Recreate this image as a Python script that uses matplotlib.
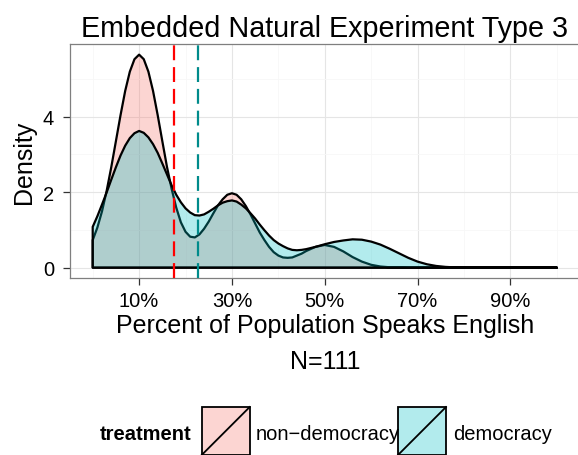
import matplotlib
matplotlib.use("Agg")
import matplotlib.pyplot as plt
import matplotlib.patches as mpatches
from matplotlib.lines import Line2D
from matplotlib.colors import to_rgba

plt.rcParams['font.family'] = ['Liberation Sans', 'DejaVu Sans']

# density curves (x in percent)
pct = list(range(0, 47)) + list(range(48, 82, 2)) + [85, 90, 95, 100]

non_dem = [0.73, 1.06, 1.49, 2.03, 2.66, 3.35, 4.04, 4.68, 5.19, 5.52,
           5.64, 5.52, 5.19, 4.68, 4.04, 3.35, 2.67, 2.09, 1.59, 1.20,
           0.95, 0.82, 0.80, 0.88, 1.03, 1.22, 1.44, 1.65, 1.81, 1.93,
           1.97, 1.93, 1.81, 1.63, 1.41, 1.17, 0.93, 0.73, 0.55, 0.41,
           0.32, 0.27, 0.26, 0.27, 0.32, 0.37, 0.44,
           0.55, 0.60, 0.55, 0.43, 0.28, 0.16, 0.075, 0.03, 0.01, 0.003,
           0.0, 0.0, 0.0, 0.0, 0.0, 0.0, 0.0,
           0.0, 0.0, 0.0, 0.0]

dem = [1.08, 1.36, 1.67, 1.99, 2.33, 2.66, 2.97, 3.23, 3.43, 3.56,
       3.62, 3.57, 3.45, 3.27, 3.04, 2.76, 2.47, 2.18, 1.93, 1.73,
       1.57, 1.46, 1.39, 1.38, 1.41, 1.48, 1.56, 1.65, 1.72, 1.76,
       1.78, 1.75, 1.67, 1.57, 1.44, 1.30, 1.14, 0.99, 0.85, 0.73,
       0.64, 0.57, 0.51, 0.47, 0.46, 0.47, 0.49,
       0.55, 0.62, 0.68, 0.72, 0.75, 0.74, 0.69, 0.61, 0.50, 0.38,
       0.26, 0.16, 0.09, 0.045, 0.02, 0.007, 0.0,
       0.0, 0.0, 0.0, 0.0]

groups = ['non\u2212democracy', 'democracy']
fills = ['#F8766D', '#00BFC4']
mean_pct = [17.6, 22.7]
mean_cols = ['#FF0000', '#008B8B']

xticks = [10, 30, 50, 70, 90]
xticklabels = ['10%', '30%', '50%', '70%', '90%']
yticks = [0, 2, 4]

W, H = 578, 456
fig = plt.figure(figsize=(W / 100, H / 100), dpi=100)
left, right, top, bottom = 69.5, 580.0, 45.0, 279.3
ax = fig.add_axes([left / W, 1 - bottom / H, (right - left) / W, (bottom - top) / H])

for xs, ys, col in [(pct, non_dem, fills[0]), (pct, dem, fills[1])]:
    px = [xs[0]] + list(xs) + [xs[-1]]
    py = [0] + list(ys) + [0]
    ax.fill(px, py, facecolor=to_rgba(col, 0.3), edgecolor='black', lw=1.6,
            joinstyle='round', zorder=3)

for m, c in zip(mean_pct, mean_cols):
    ax.axvline(m, color=c, lw=1.6, dashes=(6.7, 3.1), zorder=4)

ax.set_xlim(-5, 105)
ax.set_ylim(-0.282, 5.922)
ax.set_xticks(xticks)
ax.set_xticklabels(xticklabels)
ax.set_yticks(yticks)
ax.set_xticks([0, 20, 40, 60, 80, 100], minor=True)
ax.set_yticks([1, 3, 5], minor=True)
ax.grid(which='major', color='#E5E5E5', lw=0.8, zorder=0)
ax.grid(which='minor', color='#F7F7F7', lw=0.6, zorder=0)
ax.set_axisbelow(True)
ax.tick_params(which='major', direction='out', length=5, width=0.9, color='#333333',
               labelsize=14.5, labelcolor='black')
ax.tick_params(axis='x', which='major', pad=4.5)
ax.tick_params(axis='y', which='major', pad=6)
ax.tick_params(which='minor', length=0)
for s in ax.spines.values():
    s.set_color('#7F7F7F')
    s.set_linewidth(0.9)

ax.set_title('Embedded Natural Experiment Type 3', fontsize=20.7, pad=5.5)
ax.set_xlabel('Percent of Population Speaks English\nN=111', fontsize=18, linespacing=1.6,
              labelpad=2)
ax.set_ylabel('Density', fontsize=18)
ax.yaxis.set_label_coords((36 - left) / (right - left), 0.5)

# legend drawn below the plot
def fx(p):
    return p / W

def fy(p):
    return 1 - p / H

fig.text(fx(99.3), fy(440), 'treatment', fontsize=14.5, fontweight='bold', va='baseline')
boxes = [(201.7, fills[0], 255.7), (398.0, fills[1], 452.7)]
for (bx, col, tx), lab in zip(boxes, groups):
    fig.add_artist(mpatches.Rectangle((fx(bx), fy(456)), fx(48), 48 / H,
                                      transform=fig.transFigure, facecolor=to_rgba(col, 0.3),
                                      edgecolor='black', lw=1.3))
    fig.add_artist(Line2D([fx(bx), fx(bx + 48)], [fy(456), fy(408)],
                          transform=fig.transFigure, color='black', lw=1.3))
    fig.text(fx(tx), fy(440), lab, fontsize=14.5, va='baseline')

fig.savefig('out.png', dpi=100)
